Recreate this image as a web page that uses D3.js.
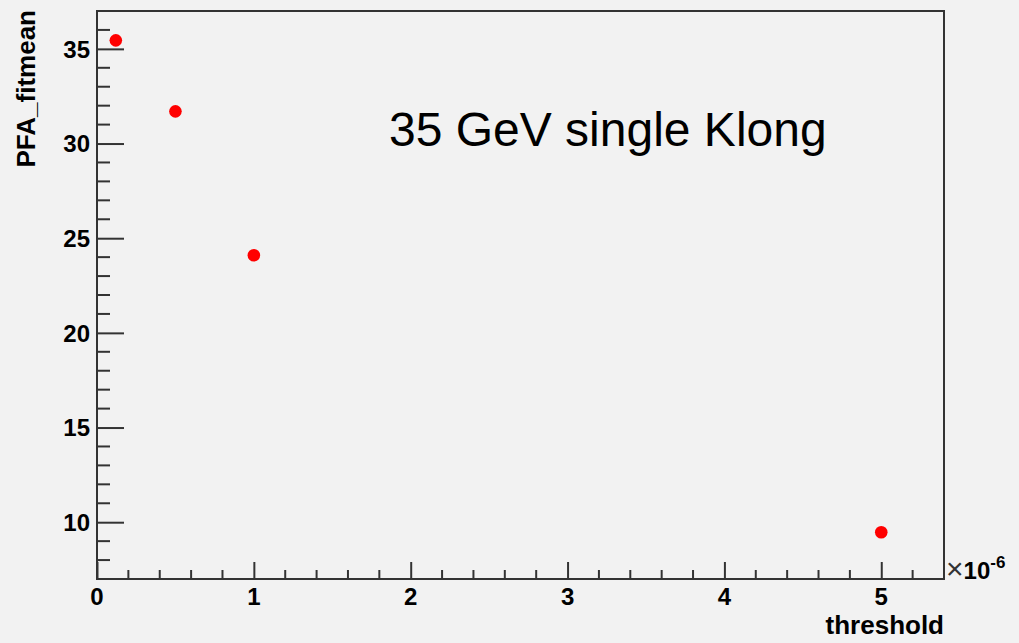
<!DOCTYPE html>
<html>
<head>
<meta charset="utf-8">
<script src="https://cdn.jsdelivr.net/npm/d3@7"></script>
<style>
  body { margin: 0; background: #f2f2f2; }
  svg { display: block; }
  text { font-family: "Liberation Sans", Arial, sans-serif; }
</style>
</head>
<body>
<svg id="chart"></svg>
<script>
const WIDTH = 1019, HEIGHT = 643;

// threshold values (x 1e-6) and fitted mean
const thresholds = [0.12, 0.5, 1.0, 5.0];
const fitmeans = [35.45, 31.7, 24.1, 9.47];
const xMajorTicks = [0, 1, 2, 3, 4, 5];
const yMajorTicks = [10, 15, 20, 25, 30, 35];
const labelText = "35 GeV single Klong";

const frame = { left: 97, right: 944, top: 11, bottom: 579 };

const svg = d3.select("#chart")
    .attr("width", WIDTH)
    .attr("height", HEIGHT);

const x = d3.scaleLinear().domain([0, 5.4]).range([frame.left, frame.right]);
const y = d3.scaleLinear().domain([7, 37]).range([frame.bottom, frame.top]);

const xMinor = d3.range(0, 5.4001, 0.2).filter(v => Math.abs(v - Math.round(v)) > 1e-6);
const yMinor = d3.range(8, 37).filter(v => v % 5 !== 0);

const ink = "#333";

// x axis
const xAxis = svg.append("g").attr("transform", `translate(0,${frame.bottom})`);
xAxis.call(d3.axisBottom(x).tickValues(xMajorTicks).tickSize(-17).tickFormat(""));
xAxis.selectAll(".tick line").attr("stroke", ink).attr("stroke-width", 2);
xAxis.select(".domain").remove();
xAxis.selectAll(".minor").data(xMinor).join("line")
    .attr("class", "minor")
    .attr("x1", d => x(d)).attr("x2", d => x(d))
    .attr("y1", 0).attr("y2", -9)
    .attr("stroke", ink).attr("stroke-width", 2);
xAxis.selectAll(".lab").data(xMajorTicks).join("text")
    .attr("class", "lab")
    .attr("x", d => x(d)).attr("y", 26)
    .attr("text-anchor", "middle")
    .attr("fill", "#000")
    .attr("font-family", "Liberation Sans, Arial, sans-serif")
    .attr("font-size", 24).attr("font-weight", "bold")
    .text(d => d);

// y axis
const yAxis = svg.append("g").attr("transform", `translate(${frame.left},0)`);
yAxis.call(d3.axisLeft(y).tickValues(yMajorTicks).tickSize(-27).tickFormat(""));
yAxis.selectAll(".tick line").attr("stroke", ink).attr("stroke-width", 2);
yAxis.select(".domain").remove();
yAxis.selectAll(".minor").data(yMinor).join("line")
    .attr("class", "minor")
    .attr("x1", 0).attr("x2", 13)
    .attr("y1", d => y(d)).attr("y2", d => y(d))
    .attr("stroke", ink).attr("stroke-width", 2);
yAxis.selectAll(".lab").data(yMajorTicks).join("text")
    .attr("class", "lab")
    .attr("x", -7).attr("y", d => y(d))
    .attr("dy", "0.36em")
    .attr("text-anchor", "end")
    .attr("fill", "#000")
    .attr("font-family", "Liberation Sans, Arial, sans-serif")
    .attr("font-size", 24).attr("font-weight", "bold")
    .text(d => d);

// frame
svg.append("rect")
    .attr("x", frame.left).attr("y", frame.top)
    .attr("width", frame.right - frame.left)
    .attr("height", frame.bottom - frame.top)
    .attr("fill", "none").attr("stroke", ink).attr("stroke-width", 2);

// axis titles
svg.append("text")
    .attr("x", frame.right).attr("y", 634)
    .attr("text-anchor", "end")
    .attr("font-size", 26).attr("font-weight", "bold")
    .text("threshold");

svg.append("text")
    .attr("transform", `translate(35,${frame.top - 1}) rotate(-90)`)
    .attr("text-anchor", "end")
    .attr("font-size", 26).attr("font-weight", "bold")
    .text("PFA_fitmean");

// exponent
const expo = svg.append("text")
    .attr("x", 946).attr("y", 579)
    .attr("font-size", 24);
expo.append("tspan").attr("font-size", 30).attr("fill", "#333").text("\u00d7");
expo.append("tspan").attr("font-weight", "bold").text("10");
expo.append("tspan").attr("font-weight", "bold").attr("font-size", 17).attr("dy", -11).text("-6");

// annotation
svg.append("text")
    .attr("x", 389).attr("y", 146)
    .attr("font-size", 48)
    .attr("fill", "#000")
    .text(labelText);

// points
svg.append("g").selectAll("circle")
    .data(thresholds.map((t, i) => [t, fitmeans[i]]))
    .join("circle")
    .attr("cx", d => x(d[0]))
    .attr("cy", d => y(d[1]))
    .attr("r", 6.3)
    .attr("fill", "#ff0000");
</script>
</body>
</html>
